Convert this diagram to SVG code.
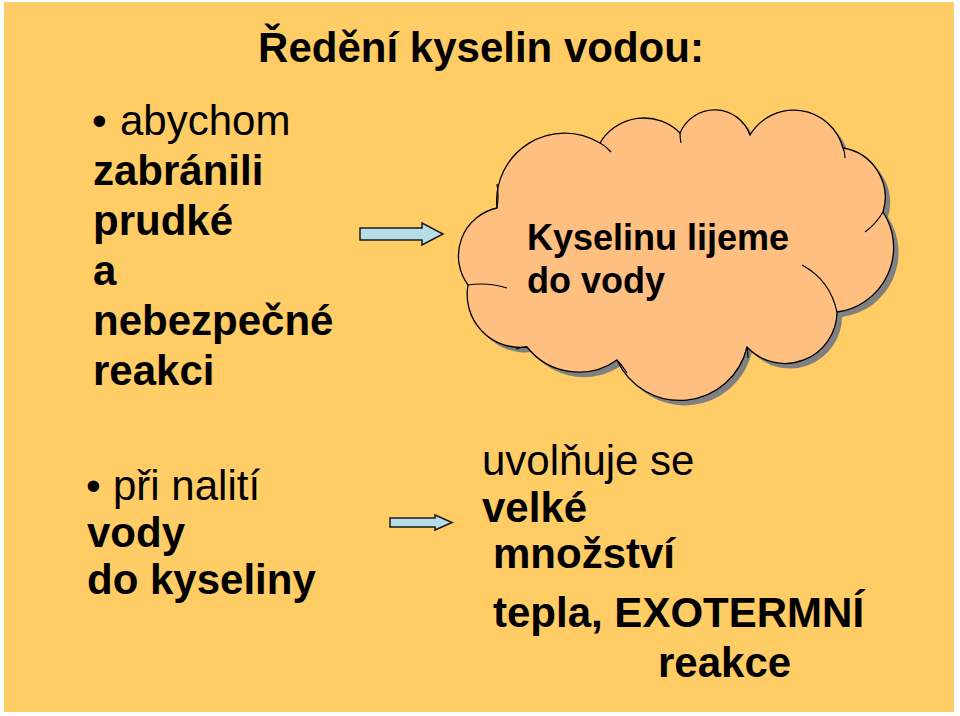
<svg xmlns="http://www.w3.org/2000/svg" width="960" height="716" viewBox="0 0 960 716">
<defs>
<style>
.t{font-family:"Liberation Sans",Arial,sans-serif;font-size:42px;fill:#000}
.b{font-weight:bold}
.c{font-family:"Liberation Sans",Arial,sans-serif;font-size:36px;font-weight:bold;fill:#000}
.arrow{fill:#B7DDE8;stroke:#1a1a1a;stroke-width:1.5;stroke-linejoin:miter}
.curl{fill:none;stroke:#000;stroke-width:1.2}
</style>
<path id="cloudShape" d="M497,208 A68,68 0 0 1 600,143 A51,51 0 0 1 680,133 A37.5,37.5 0 0 1 750,135 A51,51 0 0 1 843,148 A50,50 0 0 1 883,212 A65,65 0 0 1 837,312 A52,52 0 0 1 747,347 A69,69 0 0 1 617,360 A66,66 0 0 1 527,347 A53,53 0 0 1 468,285 A49,49 0 0 1 497,208 Z"/>
</defs>
<rect x="0" y="0" width="960" height="716" fill="#FFFFFF"/>
<rect x="4" y="2" width="950" height="710" fill="#FFCC66"/>

<g id="title">
<text class="t b" x="481" y="62" text-anchor="middle">Ředění kyselin vodou:</text>
</g>

<g id="left-top">
<text class="t" x="92" y="135">•</text>
<text class="t" x="120" y="135">abychom</text>
<text class="t b" x="93" y="185">zabránili</text>
<text class="t b" x="93" y="235">prudké</text>
<text class="t b" x="93" y="285">a</text>
<text class="t b" x="93" y="335">nebezpečné</text>
<text class="t b" x="93" y="385">reakci</text>
</g>

<g id="cloud">
<use href="#cloudShape" transform="translate(5,5)" fill="#808080"/>
<use href="#cloudShape" fill="#FFBF80" stroke="#000" stroke-width="1.3"/>
<path class="curl" d="M468,285 Q488,282 507,288"/>
<path class="curl" d="M600,143 Q606,146 611,152"/>
<path class="curl" d="M680,133 Q680,138 681,143"/>
<path class="curl" d="M843,148 Q845,152 845,158"/>
<path class="curl" d="M883,212 Q876,224 865,232"/>
<path class="curl" d="M837,312 Q830,280 802,265"/>
<path class="curl" d="M747,347 Q748,352 748,358"/>
<path class="curl" d="M617,360 Q622,365 627,373"/>
<path class="curl" d="M527,347 Q522,347 516,349"/>
<path class="curl" d="M497,208 Q499,196 497,184"/>
<text class="c" x="527" y="250">Kyselinu lijeme</text>
<text class="c" x="527" y="293">do vody</text>
</g>

<g id="connectors">
<path class="arrow" d="M360,228 L422,228 L422,223 L443,234 L422,245 L422,240 L360,240 Z"/>
<path class="arrow" d="M390,518 L435,518 L435,515 L452,522.5 L435,530 L435,527 L390,527 Z"/>
</g>

<g id="left-bottom">
<text class="t" x="86" y="500">•</text>
<text class="t" x="113" y="500">při nalití</text>
<text class="t b" x="87" y="547">vody</text>
<text class="t b" x="87" y="594">do kyseliny</text>
</g>

<g id="right-bottom">
<text class="t" x="482" y="475">uvolňuje se</text>
<text class="t b" x="482" y="522">velké</text>
<text class="t b" x="493" y="568">množství</text>
<text class="t b" x="493" y="627">tepla, EXOTERMNÍ</text>
<text class="t b" x="658" y="677">reakce</text>
</g>
</svg>
